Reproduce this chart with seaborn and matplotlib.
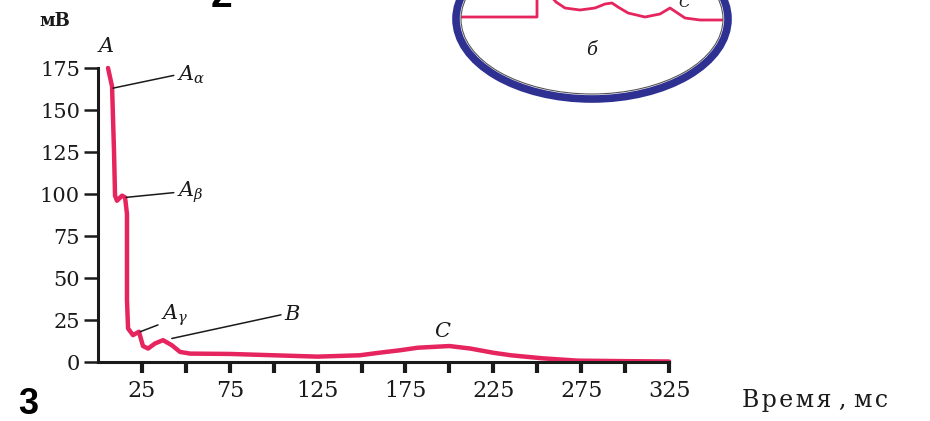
import matplotlib
matplotlib.use("Agg")
import matplotlib.pyplot as plt
from matplotlib.patches import Ellipse
import seaborn as sns

# ── данные: составной потенциал действия нерва ─────────────────────────────
time_ms = [5.7, 8.0, 9.1, 9.7, 10.8, 13.7, 15.4, 16.5, 16.5, 17.1, 19.9, 23.3,
           25.6, 28.5, 32.4, 37.0, 42.0, 46.7, 52.4, 75, 100, 125, 149, 160,
           172, 182, 200, 212, 225, 235, 253, 273, 300, 325]
voltage_mv = [175, 164, 126, 99, 96, 99, 98, 88, 37, 20, 16, 18,
              9.5, 8, 11, 13, 10, 6, 5, 4.8, 4, 3.2, 4, 5.5,
              7, 8.5, 9.5, 8, 5.5, 4, 2.2, 0.8, 0.5, 0.3]

x_ticks = list(range(25, 326, 25))
x_ticklabels = [str(t) if t % 50 == 25 else "" for t in x_ticks]
y_ticks = list(range(0, 176, 25))

# врезка «б» (верхний фрагмент, обрезан кадром)
inset_x = [455, 537, 537, 550, 556, 565, 580, 595, 605, 612, 618, 628, 645,
           660, 670, 676, 685, 700, 735]
inset_y = [17, 17, -5, -5, 2, 8, 10, 8, 4, 3, 7, 13, 17, 14, 8, 12, 18, 20, 20]

RED = "#e6245e"
BLUE = "#2e3192"
INK = "#1a1a1a"

sns.set_theme(style="ticks")
plt.rcParams["font.family"] = ["DejaVu Serif"]
plt.rcParams["mathtext.fontset"] = "dejavuserif"

fig = plt.figure(figsize=(9.3, 4.21), dpi=100, facecolor="white")
ax = fig.add_axes([98 / 930, 59 / 421, 571 / 930, 294 / 421])

sns.lineplot(x=time_ms, y=voltage_mv, sort=False, estimator=None,
             color=RED, linewidth=3.2, ax=ax)
for ln in ax.lines:
    ln.set_clip_on(False)

ax.set_xlim(0, 325)
ax.set_ylim(0, 175)
ax.set_xticks(x_ticks)
ax.set_xticklabels(x_ticklabels)
ax.set_yticks(y_ticks)
ax.set_xlabel("")
ax.set_ylabel("")

sns.despine(ax=ax)
for side in ("left", "bottom"):
    ax.spines[side].set_linewidth(2.2)
    ax.spines[side].set_color(INK)
ax.tick_params(axis="x", direction="out", length=8, width=3, pad=5,
               labelsize=16, colors=INK)
ax.tick_params(axis="y", direction="out", length=10, width=1.8, pad=3,
               labelsize=15, colors=INK)

# ── подписи компонентов ────────────────────────────────────────────────────
ax.text(4.6, 188, r"$A$", fontsize=15, ha="center", va="center", color=INK)

lead = dict(arrowstyle="-", lw=1.1, color=INK, shrinkA=0, shrinkB=0,
            relpos=(0, 0.5))
ax.annotate(r"$A_\alpha$", xy=(8.5, 163), xytext=(45, 171), fontsize=15,
            va="center", color=INK, arrowprops=lead, annotation_clip=False)
ax.annotate(r"$A_\beta$", xy=(16, 98), xytext=(45, 101), fontsize=15,
            va="center", color=INK, arrowprops=lead, annotation_clip=False)
ax.annotate(r"$A_\gamma$", xy=(24, 18), xytext=(36, 28), fontsize=15,
            va="center", color=INK, arrowprops=dict(lead, relpos=(0.1, 0.2)))
ax.annotate(r"$B$", xy=(42, 14), xytext=(106, 28.5), fontsize=15,
            va="center", color=INK, arrowprops=lead)
ax.text(196, 18, r"$C$", fontsize=15, ha="center", va="center", color=INK)

# ── надписи на рисунке ────────────────────────────────────────────────────
fig.text(55 / 930, 1 - 21 / 421, "мВ", fontsize=13, fontweight="bold",
         ha="center", va="center", color=INK)
fig.text(815 / 930, 1 - 401 / 421, "В\u200aр\u200aе\u200aм\u200aя , м\u200aс",
         fontsize=17, ha="center", va="center", color=INK)
fig.text(28 / 930, 1 - 404 / 421, "3", fontsize=26, fontweight="bold",
         family=["Liberation Sans", "DejaVu Sans"], ha="center", va="center",
         color="black")
fig.text(221 / 930, 1 - 7 / 421, "2", fontsize=28, fontweight="bold",
         family=["Liberation Sans", "DejaVu Sans"], ha="center",
         va="baseline", color="black")

# ── врезка в синем овале ──────────────────────────────────────────────────
ax_in = fig.add_axes([440 / 930, 1 - 110 / 421, 305 / 930, 110 / 421])
ax_in.set_xlim(440, 745)
ax_in.set_ylim(110, 0)
ax_in.axis("off")

oval = Ellipse((592, 19), 272, 160, facecolor="none", edgecolor=BLUE,
               linewidth=5.5, clip_on=False, zorder=5)
inner = Ellipse((592, 19), 262, 150, facecolor="none", edgecolor="#555555",
                linewidth=0.8, clip_on=False, zorder=4)
clip = Ellipse((592, 19), 262, 150, transform=ax_in.transData)
ax_in.add_patch(oval)
ax_in.add_patch(inner)

sns.lineplot(x=inset_x, y=inset_y, sort=False, estimator=None, color=RED,
             linewidth=2.0, ax=ax_in)
for ln in ax_in.lines:
    ln.set_clip_path(clip)
ax_in.text(592, 50, "б", fontsize=13, style="italic", ha="center",
           va="center", color=INK)
ax_in.text(684, 3, "C", fontsize=11, style="italic", ha="center",
           va="center", color=INK)

fig.savefig("out.png", dpi=100, facecolor="white")
